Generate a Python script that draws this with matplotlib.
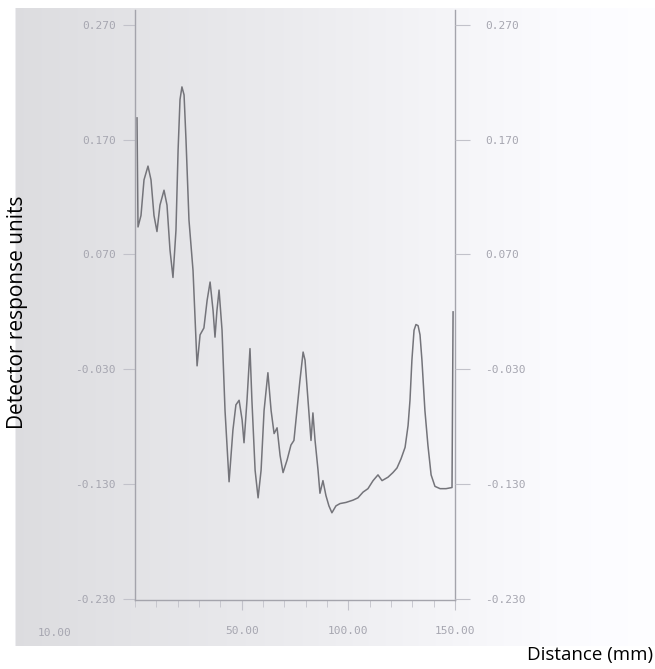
import numpy as np
import matplotlib
matplotlib.use("Agg")
import matplotlib.pyplot as plt

# ---- data ----
distance_mm = [0.94, 1.41, 2.81, 4.22, 6.09, 7.5, 8.9, 10.3, 11.7, 13.6, 15.0, 16.4, 17.8,
               19.2, 20.2, 21.1, 22.0, 23.0, 23.9, 25.3, 27.2, 29.1, 30.5, 32.3, 33.8, 35.2,
               36.6, 37.5, 38.4, 39.4, 40.8, 42.2, 44.1, 45.9, 47.3, 48.8, 50.2, 51.1, 52.5,
               53.9, 54.8, 56.3, 57.7, 59.1, 60.5, 62.3, 63.8, 65.2, 66.6, 68.0, 69.4, 71.3,
               73.1, 74.5, 75.9, 77.3, 78.8, 79.7, 81.1, 82.5, 83.4, 84.4, 85.8, 86.7, 88.1,
               89.5, 90.9, 92.3, 94.2, 96.1, 98.9, 102.2, 104.5, 106.9, 109.2, 111.6, 113.9,
               115.8, 118.6, 120.9, 122.8, 124.7, 126.6, 128.0, 128.9, 129.8, 130.8, 131.7,
               132.7, 133.6, 134.5, 135.9, 137.3, 138.8, 140.6, 143.0, 145.8, 148.6, 149.1]
response = [0.189, 0.094, 0.104, 0.135, 0.147, 0.135, 0.104, 0.090, 0.113, 0.126, 0.113, 0.074,
            0.050, 0.091, 0.161, 0.205, 0.216, 0.209, 0.170, 0.100, 0.056, -0.027, 0.000, 0.006,
            0.030, 0.046, 0.021, -0.002, 0.021, 0.039, 0.004, -0.066, -0.128, -0.083, -0.061,
            -0.057, -0.074, -0.094, -0.057, -0.012, -0.057, -0.118, -0.142, -0.118, -0.066,
            -0.033, -0.066, -0.086, -0.081, -0.105, -0.120, -0.109, -0.096, -0.092, -0.066,
            -0.040, -0.015, -0.022, -0.057, -0.092, -0.068, -0.092, -0.118, -0.138, -0.127,
            -0.140, -0.149, -0.155, -0.149, -0.147, -0.146, -0.144, -0.142, -0.137, -0.134,
            -0.127, -0.122, -0.127, -0.124, -0.120, -0.116, -0.108, -0.098, -0.079, -0.057,
            -0.022, 0.004, 0.009, 0.008, 0.000, -0.022, -0.066, -0.096, -0.122, -0.132,
            -0.134, -0.134, -0.133, 0.020]

y_ticks = [0.270, 0.170, 0.070, -0.030, -0.130, -0.230]
y_tick_labels = ["0.270", "0.170", "0.070", "-0.030", "-0.130", "-0.230"]
x_ticks = [50, 100, 150]
x_tick_labels = ["50.00", "100.00", "150.00"]
first_x_label = "10.00"

W, H = 655, 669
fig = plt.figure(figsize=(W / 100, H / 100), dpi=100)

# ---- scanned-paper background ----
bg = fig.add_axes([0, 0, 1, 1])
bg.set_axis_off()
xs = np.arange(W)
col = np.interp(xs, [0, 14, 16, 130, 300, 470, 560, 655],
                [1.0, 1.0, 0.865, 0.89, 0.925, 0.965, 0.985, 0.995])
img = np.ones((H, W, 3))
for c, off in enumerate([0.0, 0.0, 0.012]):
    img[:, :, c] = np.clip(col + off, 0, 1)[None, :]
img[:8, :, :] = 1.0
img[646:, :, :] = 1.0
bg.imshow(img, aspect="auto", extent=[0, W, H, 0])
bg.set_xlim(0, W)
bg.set_ylim(H, 0)

# ---- main trace axes ----
rect = [135 / W, 69 / H, 320 / W, 590 / H]
ax = fig.add_axes(rect)
ax.patch.set_alpha(0)
ax.plot(distance_mm, response, color="#74747a", lw=1.1)
ax.set_xlim(0, 150)
ax.set_ylim(-0.231, 0.283)

faint = "#a6a6b0"
tickc = "#c2c2ca"
for s in ["left", "right", "bottom"]:
    ax.spines[s].set_color("#a4a4ac")
    ax.spines[s].set_linewidth(1.0)
ax.spines["top"].set_visible(False)

ax.set_yticks(y_ticks)
ax.set_yticklabels(y_tick_labels, family="DejaVu Sans Mono")
ax.tick_params(axis="y", which="major", left=True, right=False, direction="out",
               length=9, width=0.8, color=tickc, pad=5, labelsize=8, labelcolor=faint)

axr = ax.twinx()
axr.set_ylim(ax.get_ylim())
axr.set_yticks(y_ticks)
axr.set_yticklabels(y_tick_labels, family="DejaVu Sans Mono")
axr.tick_params(axis="y", direction="out", length=11, width=0.8, color=tickc, pad=11,
                labelsize=8, labelcolor=faint)
for s in axr.spines.values():
    s.set_visible(False)

ax.set_xticks(x_ticks)
ax.set_xticklabels(x_tick_labels, family="DejaVu Sans Mono")
ax.set_xticks(np.arange(0, 151, 10), minor=True)
ax.tick_params(axis="x", which="major", direction="out", length=7, width=0.8,
               color=tickc, pad=12, labelsize=8, labelcolor=faint)
ax.tick_params(axis="x", which="minor", direction="out", length=5, width=0.6, color=tickc)
fig.text(55 / W, 1 - 633 / H, first_x_label, ha="center", va="center", fontsize=8,
         color=faint, family="DejaVu Sans Mono")

# ---- axis titles ----
fig.text(18 / W, 1 - 312 / H, "Detector response units", rotation=90, ha="center",
         va="center", fontsize=15, color="black", family="Open Sans")
fig.text(590 / W, 1 - 655 / H, "Distance (mm)", ha="center", va="center",
         fontsize=13.5, color="black", family="Open Sans")

fig.savefig("out.png", dpi=100)
